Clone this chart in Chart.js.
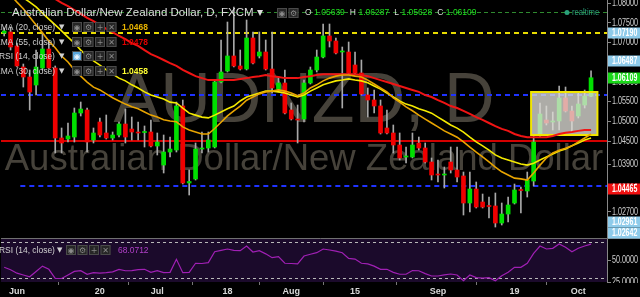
<!DOCTYPE html>
<html>
<head>
<meta charset="utf-8">
<script src="https://cdn.jsdelivr.net/npm/chart.js@4.4.1/dist/chart.umd.min.js"></script>
<style>
  html, body { margin: 0; padding: 0; background: #000; }
  #wrap { width: 640px; height: 297px; }
</style>
</head>
<body>
<div id="wrap"><canvas id="c" width="640" height="297"></canvas></div>
<script>
/* AUD/NZD daily chart with EMAs and RSI */
const dates = [
  '2016-05-30', '2016-05-31',
  '2016-06-01', '2016-06-02', '2016-06-03', '2016-06-06', '2016-06-07', '2016-06-08', '2016-06-09', '2016-06-10',
  '2016-06-13', '2016-06-14', '2016-06-15', '2016-06-16', '2016-06-17', '2016-06-20', '2016-06-21', '2016-06-22',
  '2016-06-23', '2016-06-24', '2016-06-27', '2016-06-28', '2016-06-29', '2016-06-30',
  '2016-07-01', '2016-07-04', '2016-07-05', '2016-07-06', '2016-07-07', '2016-07-08', '2016-07-11', '2016-07-12',
  '2016-07-13', '2016-07-14', '2016-07-15', '2016-07-18', '2016-07-19', '2016-07-20', '2016-07-21', '2016-07-22',
  '2016-07-25', '2016-07-26', '2016-07-27', '2016-07-28', '2016-07-29',
  '2016-08-01', '2016-08-02', '2016-08-03', '2016-08-04', '2016-08-05', '2016-08-08', '2016-08-09', '2016-08-10',
  '2016-08-11', '2016-08-12', '2016-08-15', '2016-08-16', '2016-08-17', '2016-08-18', '2016-08-19', '2016-08-22',
  '2016-08-23', '2016-08-24', '2016-08-25', '2016-08-26', '2016-08-29', '2016-08-30', '2016-08-31',
  '2016-09-01', '2016-09-02', '2016-09-05', '2016-09-06', '2016-09-07', '2016-09-08', '2016-09-09', '2016-09-12',
  '2016-09-13', '2016-09-14', '2016-09-15', '2016-09-16', '2016-09-19', '2016-09-20', '2016-09-21', '2016-09-22',
  '2016-09-23', '2016-09-26', '2016-09-27', '2016-09-28', '2016-09-29', '2016-09-30',
  '2016-10-03', '2016-10-04', '2016-10-05', '2016-10-06', '2016-10-07',
];

const opens = [
  1.07246, 1.07271, 1.06916, 1.06382, 1.06128, 1.05925, 1.06357, 1.06839, 1.06357, 1.04579,
  1.04553, 1.04604, 1.05214, 1.05290, 1.04528, 1.04985, 1.04706, 1.04579, 1.04655, 1.04934,
  1.04807, 1.04731, 1.04718, 1.04731, 1.04376, 1.03893, 1.04223, 1.04274, 1.05392, 1.03436,
  1.03537, 1.04299, 1.04325, 1.04350, 1.06001, 1.06281, 1.06662, 1.06408, 1.06331, 1.07119,
  1.06662, 1.06763, 1.06331, 1.05823, 1.05976, 1.05290, 1.05061, 1.05061, 1.05976, 1.06306,
  1.06636, 1.07170, 1.07043, 1.06763, 1.06763, 1.06433, 1.06230, 1.05671, 1.05544, 1.05392,
  1.04833, 1.04706, 1.04401, 1.04096, 1.04096, 1.04452, 1.04325, 1.03969, 1.03664, 1.03639,
  1.03969, 1.03766, 1.03614, 1.02928, 1.03283, 1.02953, 1.02864, 1.02852, 1.02420, 1.02648,
  1.02928, 1.03271, 1.03233, 1.03486, 1.04655, 1.05036, 1.04985, 1.05011, 1.05595, 1.05265,
  1.05138, 1.05417, 1.05639,
];
const highs = [
  1.07373, 1.07398, 1.06992, 1.06458, 1.06306, 1.06814, 1.07246, 1.07068, 1.06408, 1.04833,
  1.04960, 1.05341, 1.05493, 1.05341, 1.04833, 1.05087, 1.05163, 1.04731, 1.04985, 1.05315,
  1.05112, 1.04985, 1.04884, 1.05036, 1.04706, 1.04655, 1.04604, 1.05493, 1.05544, 1.03766,
  1.04452, 1.04731, 1.04731, 1.06052, 1.07068, 1.07525, 1.07906, 1.06814, 1.07576, 1.07271,
  1.07271, 1.07068, 1.07271, 1.06128, 1.06306, 1.05468, 1.05417, 1.06052, 1.06382, 1.06814,
  1.07474, 1.07474, 1.07119, 1.06890, 1.07017, 1.06763, 1.06560, 1.05849, 1.05798, 1.05544,
  1.05290, 1.04909, 1.04706, 1.04350, 1.04706, 1.04604, 1.04452, 1.04071, 1.04020, 1.03842,
  1.04350, 1.04350, 1.03715, 1.03715, 1.03461, 1.03156, 1.03080, 1.03182, 1.02928, 1.03080,
  1.03410, 1.03334, 1.03715, 1.04655, 1.05468, 1.05392, 1.05239, 1.05900, 1.05874, 1.05392,
  1.05722, 1.05798, 1.06287,
];
const lows = [
  1.07170, 1.06814, 1.06382, 1.05874, 1.05290, 1.05671, 1.06306, 1.06331, 1.04198, 1.04198,
  1.04477, 1.04477, 1.05138, 1.04223, 1.04452, 1.04604, 1.04553, 1.04528, 1.04604, 1.04452,
  1.04528, 1.04528, 1.04350, 1.04350, 1.04147, 1.03690, 1.04096, 1.04223, 1.03410, 1.03131,
  1.03512, 1.04198, 1.04223, 1.04325, 1.05976, 1.06255, 1.06382, 1.06306, 1.06306, 1.06458,
  1.06611, 1.06306, 1.05722, 1.05747, 1.05188, 1.05036, 1.04452, 1.04985, 1.05950, 1.06255,
  1.06611, 1.06890, 1.06712, 1.05341, 1.06204, 1.06179, 1.05671, 1.05112, 1.05214, 1.04680,
  1.04680, 1.04198, 1.04020, 1.03944, 1.04071, 1.04274, 1.03944, 1.03512, 1.03461, 1.03309,
  1.03690, 1.03461, 1.02623, 1.02699, 1.02801, 1.02801, 1.02547, 1.02318, 1.02369, 1.02445,
  1.02902, 1.02674, 1.03080, 1.03360, 1.04604, 1.04909, 1.04782, 1.04782, 1.05239, 1.04731,
  1.05087, 1.05341, 1.05628,
];
const closes = [
  1.07297, 1.06890, 1.06408, 1.06128, 1.05747, 1.06382, 1.06839, 1.06357, 1.04579, 1.04452,
  1.04630, 1.05214, 1.05315, 1.04477, 1.04706, 1.04655, 1.04579, 1.04655, 1.04934, 1.04604,
  1.04731, 1.04706, 1.04744, 1.04376, 1.04477, 1.04223, 1.04299, 1.05392, 1.03436, 1.03474,
  1.04299, 1.04325, 1.04528, 1.06001, 1.06255, 1.06662, 1.06408, 1.06331, 1.07119, 1.06484,
  1.06763, 1.06331, 1.05849, 1.05976, 1.05214, 1.05061, 1.05036, 1.05976, 1.06306, 1.06636,
  1.07170, 1.07043, 1.06738, 1.06789, 1.06230, 1.06230, 1.05696, 1.05544, 1.05392, 1.04706,
  1.04706, 1.04401, 1.04071, 1.04122, 1.04401, 1.04325, 1.03969, 1.03639, 1.03639, 1.03664,
  1.03766, 1.03588, 1.02928, 1.03283, 1.02826, 1.02826, 1.02839, 1.02420, 1.02648, 1.02877,
  1.03258, 1.03245, 1.03512, 1.04477, 1.05188, 1.04960, 1.05011, 1.05595, 1.05265, 1.05011,
  1.05442, 1.05646, 1.06109,
];

const ema20 = [
  1.0839, 1.0821, 1.0803, 1.0786, 1.0765, 1.0745, 1.0725, 1.0704, 1.0687, 1.0666,
  1.0651, 1.0631, 1.0615, 1.0600, 1.0587, 1.0580, 1.0570, 1.0560, 1.0552, 1.0544,
  1.0537, 1.0532, 1.0524, 1.0516, 1.0511, 1.0504, 1.0501, 1.0499, 1.0486, 1.0478,
  1.0473, 1.0468, 1.0468, 1.0482, 1.0498, 1.0514, 1.0527, 1.0539, 1.0554, 1.0562,
  1.0570, 1.0575, 1.0577, 1.0580, 1.0577, 1.0572, 1.0565, 1.0572, 1.0585, 1.0593,
  1.0603, 1.0610, 1.0615, 1.0618, 1.0618, 1.0615, 1.0613, 1.0605, 1.0595, 1.0585,
  1.0575, 1.0560, 1.0549, 1.0537, 1.0527, 1.0516, 1.0506, 1.0496, 1.0486, 1.0476,
  1.0468, 1.0460, 1.0448, 1.0435, 1.0422, 1.0410, 1.0397, 1.0384, 1.0372, 1.0364,
  1.0356, 1.0354, 1.0351, 1.0369, 1.0389, 1.0407, 1.0420, 1.0427, 1.0432, 1.0438,
  1.0448, 1.0458, 1.0468,
];
const ema30 = [
  1.0847, 1.0834, 1.0824, 1.0814, 1.0803, 1.0791, 1.0775, 1.0760, 1.0745, 1.0730,
  1.0714, 1.0699, 1.0681, 1.0666, 1.0654, 1.0643, 1.0631, 1.0620, 1.0610, 1.0603,
  1.0593, 1.0585, 1.0575, 1.0567, 1.0562, 1.0557, 1.0549, 1.0547, 1.0534, 1.0521,
  1.0516, 1.0511, 1.0509, 1.0516, 1.0524, 1.0532, 1.0539, 1.0552, 1.0562, 1.0567,
  1.0572, 1.0577, 1.0577, 1.0575, 1.0572, 1.0567, 1.0562, 1.0567, 1.0577, 1.0585,
  1.0593, 1.0598, 1.0603, 1.0605, 1.0608, 1.0605, 1.0603, 1.0598, 1.0590, 1.0582,
  1.0572, 1.0562, 1.0552, 1.0544, 1.0539, 1.0532, 1.0527, 1.0521, 1.0511, 1.0501,
  1.0491, 1.0483, 1.0473, 1.0460, 1.0448, 1.0438, 1.0427, 1.0415, 1.0407, 1.0402,
  1.0397, 1.0392, 1.0389, 1.0394, 1.0402, 1.0410, 1.0417, 1.0425, 1.0430, 1.0438,
  1.0445, 1.0453, 1.0458,
];
const ema55 = [
  1.0885, 1.0877, 1.0867, 1.0857, 1.0847, 1.0839, 1.0829, 1.0819, 1.0811, 1.0801,
  1.0793, 1.0783, 1.0773, 1.0763, 1.0755, 1.0745, 1.0735, 1.0727, 1.0717, 1.0709,
  1.0699, 1.0692, 1.0681, 1.0671, 1.0664, 1.0656, 1.0648, 1.0641, 1.0631, 1.0623,
  1.0615, 1.0610, 1.0605, 1.0605, 1.0605, 1.0605, 1.0605, 1.0608, 1.0610, 1.0613,
  1.0615, 1.0618, 1.0615, 1.0613, 1.0610, 1.0610, 1.0610, 1.0613, 1.0615, 1.0618,
  1.0620, 1.0620, 1.0620, 1.0620, 1.0620, 1.0620, 1.0618, 1.0615, 1.0610, 1.0605,
  1.0600, 1.0595, 1.0590, 1.0585, 1.0580, 1.0575, 1.0567, 1.0562, 1.0554, 1.0547,
  1.0539, 1.0534, 1.0527, 1.0519, 1.0511, 1.0504, 1.0496, 1.0488, 1.0481, 1.0476,
  1.0468, 1.0463, 1.0460, 1.0460, 1.0460, 1.0460, 1.0463, 1.0468, 1.0471, 1.0473,
  1.0476, 1.0478, 1.0478,
];
const rsi14 = [
  41.7, 39, 35, 33, 31, 37, 43, 39.4, 29.2, 29,
  33, 37, 37.8, 33.8, 35.6, 35, 35.6, 36.5, 39.4, 37.8,
  38, 39, 39.4, 36, 37.8, 35.6, 36, 50.8, 35.6, 36,
  46.3, 46, 47, 59.4, 61, 62.5, 61, 60.6, 65.9, 59.1,
  60.6, 57, 52.6, 53.8, 46.3, 46, 45.5, 54.5, 56.5, 58.3,
  62.5, 61.4, 60, 58.3, 51.9, 51.1, 46.3, 45.5, 43, 39.4,
  39.4, 36, 33.8, 33.8, 38, 37.8, 34.5, 31.8, 31.8, 33,
  34.1, 33, 26.5, 33, 30, 29.5, 29.9, 26.5, 32, 36,
  41.7, 41.7, 46.3, 57.6, 65.9, 62.5, 63.3, 68.2, 64.4, 59.4,
  63.3, 65.9, 68.0712,
];

const priceTicks = [1.08, 1.075, 1.07, 1.065, 1.06, 1.055, 1.05, 1.045, 1.039, 1.033, 1.027];
const rsiTicks = [50, 25];
const rsiBands = [70, 30];
const xTickDates = ['2016-06-01', '2016-06-20', '2016-07-01', '2016-07-18', '2016-08-01', '2016-08-15', '2016-09-01', '2016-09-19', '2016-10-03'];
const xTickText = ['Jun', '20', 'Jul', '18', 'Aug', '15', 'Sep', '19', 'Oct'];

// drawn levels and marked prices
const realtimeLevel = 1.07767;
const levelPrices = [1.0725, 1.05671, 1.04503, 1.03372];
const levelFrom = [null, null, null, '2016-06-02'];
const markText = ['1.07190', '1.06487', '1.06109', '1.04465', '1.02961', '1.02642'];
const markPrices = [1.07246, 1.06535, 1.06109, 1.03284, 1.02445, 1.02166];
const zoneDates = ['2016-09-22', '2016-10-05'];
const zonePrices = [1.05747, 1.04655];

const title = 'Australian Dollar/New Zealand Dollar, D, FXCM';
const ohlcKeys = ['O', 'H', 'L', 'C'];
const ohlcVals = ['1.05639', '1.06287', '1.05628', '1.06109'];
const studyNames = ['EMA (20, close)', 'EMA (55, close)', 'RSI (14, close)', 'EMA (30, close)'];
const studyVals = ['1.0468', '1.0478', '', '1.0458'];
const rsiValue = '68.0712';

const FONT = '"Liberation Sans", Arial, sans-serif';
const UP = '#00e000', DOWN = '#f00000';
const levelStyles = [
  { color: '#e8dc00', width: 2, dash: [5, 4] },
  { color: '#1f33ff', width: 2, dash: [5, 4] },
  { color: '#d40000', width: 2, dash: [] },
  { color: '#1f33ff', width: 2, dash: [5, 4] },
];
const markColors = ['#8ecbea', '#8ecbea', '#19d819', '#f01010', '#8ecbea', '#8ecbea'];
const studyColors = ['#e8b400', '#e00000', '', '#ffff33'];

const bodies = opens.map((o, i) => [o, closes[i]]);
const wicks = lows.map((l, i) => [l, highs[i]]);
const bodyColors = opens.map((o, i) => (closes[i] >= o ? UP : DOWN));

// text squeezed horizontally, to mimic the narrow face of the original
function narrowText(ctx, text, x, y, sx) {
  ctx.save();
  ctx.translate(x, y);
  ctx.scale(sx, 1);
  ctx.fillText(text, 0, 0);
  ctx.restore();
}

function iconRow(ctx, x, y, n, active) {
  const glyphs = ['\u25C9', '\u2699', '+', '\u2715'];
  ctx.save();
  for (let i = 0; i < n; i++) {
    const bx = x + i * 11.5;
    ctx.fillStyle = i === 0 && active ? '#5aa6dc' : '#262626';
    ctx.fillRect(bx, y - 5, 10, 10);
    ctx.strokeStyle = '#4a4a4a';
    ctx.lineWidth = 1;
    ctx.strokeRect(bx + 0.5, y - 4.5, 9, 9);
    ctx.fillStyle = i === 0 && active ? '#e8f4ff' : '#8a8a8a';
    ctx.font = '8px "DejaVu Sans", sans-serif';
    ctx.textAlign = 'center';
    ctx.textBaseline = 'middle';
    ctx.fillText(glyphs[i % 4], bx + 5, y + 0.5);
  }
  ctx.restore();
}

const decor = {
  id: 'decor',
  beforeDraw(chart) {
    const { ctx, chartArea: a, scales } = chart;
    const y = scales.y, yr = scales.yr;
    ctx.save();
    ctx.fillStyle = '#000';
    ctx.fillRect(0, 0, chart.width, chart.height);
    ctx.fillStyle = '#1b0a2b';
    ctx.fillRect(a.left, yr.top, a.right - a.left, yr.bottom - yr.top);
    // watermark
    const cx = (a.left + a.right) / 2;
    ctx.fillStyle = '#46423a';
    ctx.textAlign = 'center';
    ctx.textBaseline = 'alphabetic';
    ctx.font = '70px ' + FONT;
    ctx.fillText('AUDNZD, D', cx, y.top + 122);
    ctx.font = '36.5px ' + FONT;
    ctx.fillText('Australian Dollar/New Zealand Dollar', cx, y.top + 170);
    ctx.restore();
  },
  beforeDatasetsDraw(chart) {
    const { ctx, chartArea: a, scales } = chart;
    const x = scales.x, y = scales.y, yr = scales.yr;
    ctx.save();
    // realtime line
    let py = Math.round(y.getPixelForValue(realtimeLevel)) + 0.5;
    ctx.strokeStyle = '#2f8a2f';
    ctx.lineWidth = 1;
    ctx.setLineDash([4, 3]);
    ctx.beginPath(); ctx.moveTo(a.left, py); ctx.lineTo(a.right, py); ctx.stroke();
    levelPrices.forEach((p, i) => {
      const st = levelStyles[i];
      const x0 = levelFrom[i] ? x.getPixelForValue(dates.indexOf(levelFrom[i])) - 3 : a.left;
      py = Math.round(y.getPixelForValue(p));
      ctx.strokeStyle = st.color;
      ctx.lineWidth = st.width;
      ctx.setLineDash(st.dash);
      ctx.beginPath(); ctx.moveTo(x0, py); ctx.lineTo(a.right, py); ctx.stroke();
    });
    // rsi bands
    ctx.strokeStyle = '#b8b8b8';
    ctx.lineWidth = 1;
    ctx.setLineDash([3, 3]);
    rsiBands.forEach((v) => {
      const by = Math.round(yr.getPixelForValue(v)) + 0.5;
      ctx.beginPath(); ctx.moveTo(a.left, by); ctx.lineTo(a.right, by); ctx.stroke();
    });
    ctx.setLineDash([]);
    ctx.strokeStyle = '#707070';
    ctx.beginPath(); ctx.moveTo(a.left, yr.top + 0.5); ctx.lineTo(chart.width, yr.top + 0.5); ctx.stroke();
    ctx.restore();
    chart.$zoneDone = false;
  },
  beforeDatasetDraw(chart, args) {
    if (chart.$zoneDone || chart.data.datasets[args.index].type !== 'line') return;
    chart.$zoneDone = true;
    const { ctx, scales } = chart;
    const x = scales.x, y = scales.y;
    const slot = x.getPixelForValue(1) - x.getPixelForValue(0);
    const x0 = x.getPixelForValue(dates.indexOf(zoneDates[0])) - slot * 0.4;
    const x1 = x.getPixelForValue(dates.indexOf(zoneDates[1])) + slot;
    const y0 = y.getPixelForValue(zonePrices[0]);
    const y1 = y.getPixelForValue(zonePrices[1]);
    ctx.save();
    ctx.fillStyle = 'rgba(222, 220, 214, 0.78)';
    ctx.fillRect(x0, y0, x1 - x0, y1 - y0);
    ctx.strokeStyle = '#f2e600';
    ctx.lineWidth = 2;
    ctx.strokeRect(x0, y0, x1 - x0, y1 - y0);
    ctx.restore();
  },
  afterDraw(chart) {
    const { ctx, chartArea: a, scales } = chart;
    const y = scales.y, yr = scales.yr;
    ctx.save();
    ctx.textBaseline = 'middle';
    ctx.textAlign = 'left';
    // price axis labels
    ctx.font = '10px ' + FONT;
    ctx.fillStyle = '#cfcfcf';
    priceTicks.forEach((v) => narrowText(ctx, v.toFixed(5), a.right + 5, y.getPixelForValue(v), 0.72));
    ctx.save();
    ctx.beginPath(); ctx.rect(a.right, yr.top, chart.width - a.right, yr.bottom - yr.top + 1); ctx.clip();
    rsiTicks.forEach((v) => narrowText(ctx, v.toFixed(4), a.right + 5, yr.getPixelForValue(v), 0.72));
    ctx.restore();
    // header
    ctx.font = '11.5px ' + FONT;
    ctx.fillStyle = '#dedede';
    ctx.fillText(title + ' \u25BE', 12, 13);
    iconRow(ctx, 277, 13, 2, false);
    let tx = 305;
    ctx.font = '8.5px ' + FONT;
    ohlcKeys.forEach((k, i) => {
      ctx.fillStyle = '#d8d8d8';
      ctx.fillText(k, tx, 13);
      tx += ctx.measureText(k).width + 2.5;
      ctx.fillStyle = '#1ee01e';
      ctx.fillText(ohlcVals[i], tx, 13);
      tx += ctx.measureText(ohlcVals[i]).width + 5;
    });
    ctx.fillStyle = '#2aa07a';
    ctx.beginPath(); ctx.arc(567, 12.5, 2.5, 0, Math.PI * 2); ctx.fill();
    narrowText(ctx, 'realtime', 572, 13, 0.9);
    // study legend
    const rows = [27, 42, 56, 71];
    studyNames.forEach((name, i) => {
      ctx.font = '9.5px ' + FONT;
      ctx.fillStyle = '#d0d0d0';
      narrowText(ctx, name, name.startsWith('RSI') ? -1 : -5, rows[i], 0.89);
      ctx.font = '7px "DejaVu Sans", sans-serif';
      ctx.fillText('\u25BC', 59, rows[i]);
      iconRow(ctx, 72, rows[i], 4, name.startsWith('RSI'));
      if (studyVals[i]) {
        ctx.font = 'bold 9.5px ' + FONT;
        ctx.fillStyle = studyColors[i];
        narrowText(ctx, studyVals[i], 122, rows[i], 0.89);
      }
    });
    // rsi pane legend
    const ry = yr.top + 12;
    ctx.font = '9.5px ' + FONT;
    ctx.fillStyle = '#d0d0d0';
    narrowText(ctx, 'RSI (14, close)', -1, ry, 0.89);
    ctx.font = '7px "DejaVu Sans", sans-serif';
    ctx.fillText('\u25BC', 57, ry);
    iconRow(ctx, 66, ry, 4, false);
    ctx.font = '9.5px ' + FONT;
    ctx.fillStyle = '#b040c8';
    narrowText(ctx, rsiValue, 118, ry, 0.89);
    // price marks on the axis
    ctx.font = 'bold 10px ' + FONT;
    markText.forEach((t, i) => {
      const my = Math.round(y.getPixelForValue(markPrices[i]));
      ctx.fillStyle = markColors[i];
      ctx.fillRect(a.right + 1, my - 5.5, chart.width - a.right - 1, 11);
      ctx.fillStyle = '#ffffff';
      narrowText(ctx, t, a.right + 5, my + 0.5, 0.7);
    });
    ctx.restore();
  },
};

const axisX = {
  type: 'category',
  offset: true,
  grid: { display: true, drawOnChartArea: false, drawTicks: true, tickLength: 3, color: '#777' },
  border: { display: false },
  afterBuildTicks: (s) => { s.ticks = xTickDates.map((d) => ({ value: dates.indexOf(d) })); },
  afterFit: (s) => { s.height = 15; },
  ticks: {
    autoSkip: false, maxRotation: 0, padding: 1, color: '#d8d8d8',
    font: { size: 9, weight: 'bold', family: FONT },
    callback: (v) => xTickText[xTickDates.indexOf(dates[v])],
  },
};

function paneAxis(weight, min, max, ticks) {
  return {
    position: 'right', stack: 'pane', stackWeight: weight, min, max,
    afterBuildTicks: (s) => { s.ticks = ticks.map((v) => ({ value: v })); },
    afterFit: (s) => { s.width = 33; },
    grid: { drawOnChartArea: false, tickLength: 4, color: '#888' },
    border: { color: '#888' },
    ticks: { display: false },
  };
}

new Chart(document.getElementById('c'), {
  type: 'bar',
  data: {
    labels: dates,
    datasets: [
      { label: 'wick', data: wicks, backgroundColor: '#a8a8a8', barThickness: 1, grouped: false, order: 10, yAxisID: 'y' },
      { label: 'body', data: bodies, backgroundColor: bodyColors, barThickness: 4, grouped: false, order: 9, yAxisID: 'y' },
      { type: 'line', label: 'EMA (55, close)', data: ema55, borderColor: '#f01414', borderWidth: 2, pointRadius: 0, order: 3, yAxisID: 'y' },
      { type: 'line', label: 'EMA (30, close)', data: ema30, borderColor: '#f4ea00', borderWidth: 1.6, pointRadius: 0, order: 2, yAxisID: 'y' },
      { type: 'line', label: 'EMA (20, close)', data: ema20, borderColor: '#e8a400', borderWidth: 1.6, pointRadius: 0, order: 1, yAxisID: 'y' },
      { type: 'line', label: 'RSI (14, close)', data: rsi14, borderColor: '#a020b4', borderWidth: 1.2, pointRadius: 0, order: 0, yAxisID: 'yr' },
    ],
  },
  options: {
    responsive: false,
    animation: false,
    devicePixelRatio: 1,
    layout: { padding: { left: 1, top: 0, right: 0, bottom: 0 } },
    plugins: { legend: { display: false }, tooltip: { enabled: false } },
    scales: {
      x: axisX,
      y: paneAxis(238, 1.02039, 1.08084, priceTicks),
      yr: paneAxis(44, 25, 75, rsiTicks),
    },
  },
  plugins: [decor],
});
</script>
</body>
</html>
